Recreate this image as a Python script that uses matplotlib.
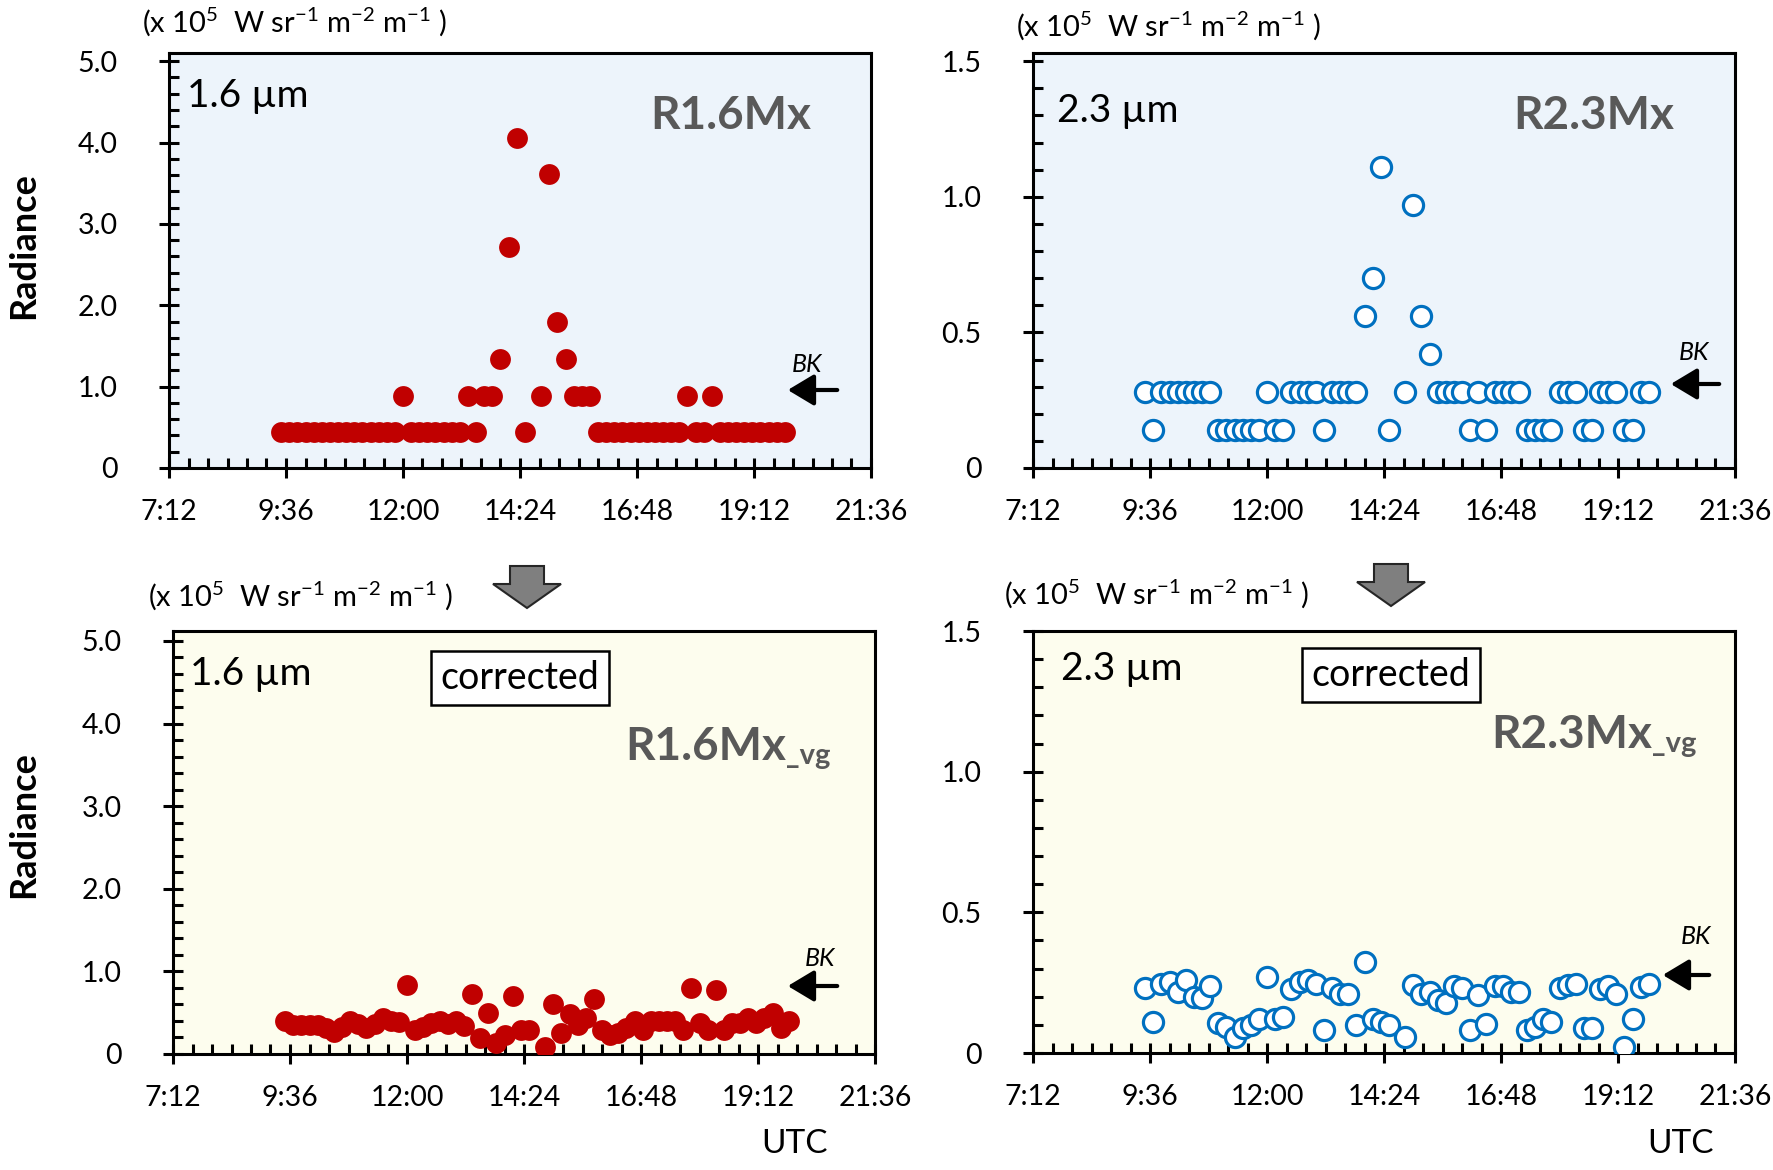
import matplotlib
matplotlib.use("Agg")
import matplotlib.pyplot as plt
from matplotlib.ticker import MultipleLocator, FixedLocator, FuncFormatter
from matplotlib.patches import Polygon, FancyArrowPatch
from matplotlib.transforms import IdentityTransform
import numpy as np

plt.rcParams['font.family'] = ['Lato', 'DejaVu Sans']
plt.rcParams['mathtext.fontset'] = 'custom'
plt.rcParams['mathtext.rm'] = 'Lato'
plt.rcParams['mathtext.it'] = 'Lato:italic'
plt.rcParams['mathtext.bf'] = 'Lato:bold'

# ---------------- data ----------------
times = ["9:30", "9:40", "9:50", "10:00", "10:10", "10:20", "10:30", "10:40", "10:50",
         "11:00", "11:10", "11:20", "11:30", "11:40", "11:50", "12:00", "12:10", "12:20",
         "12:30", "12:40", "12:50", "13:00", "13:10", "13:20", "13:30", "13:40", "13:50",
         "14:00", "14:10", "14:20", "14:30", "14:50", "15:00", "15:10", "15:20", "15:30",
         "15:40", "15:50", "16:00", "16:10", "16:20", "16:30", "16:40", "16:50", "17:00",
         "17:10", "17:20", "17:30", "17:40", "17:50", "18:00", "18:10", "18:20", "18:30",
         "18:40", "18:50", "19:00", "19:10", "19:20", "19:30", "19:40", "19:50"]

r16_raw = [0.44, 0.44, 0.44, 0.44, 0.44, 0.44, 0.44, 0.44, 0.44,
           0.44, 0.44, 0.44, 0.44, 0.44, 0.44, 0.89, 0.44, 0.44,
           0.44, 0.44, 0.44, 0.44, 0.44, 0.89, 0.44, 0.89, 0.89,
           1.34, 2.71, 4.06, 0.44, 0.89, 3.61, 1.79, 1.34, 0.89,
           0.89, 0.89, 0.44, 0.44, 0.44, 0.44, 0.44, 0.44, 0.44,
           0.44, 0.44, 0.44, 0.44, 0.89, 0.44, 0.44, 0.89, 0.44,
           0.44, 0.44, 0.44, 0.44, 0.44, 0.44, 0.44, 0.44]

r23_raw = [0.28, 0.14, 0.28, 0.28, 0.28, 0.28, 0.28, 0.28, 0.28,
           0.14, 0.14, 0.14, 0.14, 0.14, 0.14, 0.28, 0.14, 0.14,
           0.28, 0.28, 0.28, 0.28, 0.14, 0.28, 0.28, 0.28, 0.28,
           0.56, 0.70, 1.11, 0.14, 0.28, 0.97, 0.56, 0.42, 0.28,
           0.28, 0.28, 0.28, 0.14, 0.28, 0.14, 0.28, 0.28, 0.28,
           0.28, 0.14, 0.14, 0.14, 0.14, 0.28, 0.28, 0.28, 0.14,
           0.14, 0.28, 0.28, 0.28, 0.14, 0.14, 0.28, 0.28]

r16_vg = [0.40, 0.35, 0.35, 0.35, 0.35, 0.32, 0.27, 0.33, 0.40,
          0.36, 0.31, 0.36, 0.43, 0.40, 0.39, 0.83, 0.29, 0.33,
          0.37, 0.40, 0.36, 0.40, 0.34, 0.73, 0.19, 0.50, 0.13,
          0.23, 0.70, 0.29, 0.29, 0.09, 0.61, 0.26, 0.49, 0.35,
          0.44, 0.67, 0.29, 0.23, 0.25, 0.31, 0.40, 0.29, 0.40,
          0.40, 0.40, 0.40, 0.29, 0.80, 0.37, 0.29, 0.77, 0.29,
          0.37, 0.38, 0.43, 0.37, 0.44, 0.50, 0.31, 0.40]

r23_vg = [0.230, 0.110, 0.247, 0.251, 0.216, 0.258, 0.198, 0.194, 0.237,
          0.106, 0.092, 0.057, 0.088, 0.099, 0.120, 0.269, 0.120, 0.127,
          0.226, 0.251, 0.258, 0.247, 0.081, 0.230, 0.208, 0.208, 0.099,
          0.325, 0.120, 0.110, 0.099, 0.057, 0.240, 0.208, 0.216, 0.187,
          0.177, 0.237, 0.230, 0.081, 0.205, 0.102, 0.237, 0.237, 0.216,
          0.216, 0.081, 0.092, 0.120, 0.110, 0.230, 0.240, 0.247, 0.088,
          0.088, 0.226, 0.237, 0.208, 0.021, 0.120, 0.233, 0.247]

x_ticks = [7.2, 9.6, 12.0, 14.4, 16.8, 19.2, 21.6]
y_ticks_16 = [0, 1.0, 2.0, 3.0, 4.0, 5.0]
y_ticks_23 = [0, 0.5, 1.0, 1.5]


def to_hours(s):
    h, m = s.split(":")
    return int(h) + int(m) / 60.0


hours = [to_hours(t) for t in times]

# ---------------- figure ----------------
W, H = 1773, 1170
fig = plt.figure(figsize=(W / 100, H / 100), dpi=100)


def px_axes(left, top, right, bottom):
    return fig.add_axes([left / W, 1 - bottom / H, (right - left) / W, (bottom - top) / H])


RED = "#C00000"
BLUE = "#0070C0"
BG_TOP = "#EDF4FB"
BG_BOT = "#FDFDEE"
GRAY = "#595959"


def xfmt(v, pos):
    total = int(round(v * 60))
    return f"{total // 60}:{total % 60:02d}"


def yfmt(v, pos):
    if abs(v) < 1e-9:
        return "0"
    return f"{v:.1f}"


def style(ax, ymax, yticks, yminor, bg):
    ax.set_facecolor(bg)
    ax.set_xlim(7.2, 21.6)
    ax.set_ylim(0, ymax)
    ax.set_xticks(x_ticks)
    ax.xaxis.set_minor_locator(MultipleLocator(0.4))
    ax.xaxis.set_major_formatter(FuncFormatter(xfmt))
    ax.set_yticks(yticks)
    top = yticks[-1]
    ax.yaxis.set_minor_locator(FixedLocator(
        [v for v in np.arange(0, top + 1e-9, yminor)]))
    ax.yaxis.set_major_formatter(FuncFormatter(yfmt))
    ax.tick_params(which="major", direction="inout", length=14, width=2.2, labelsize=20.5)
    ax.tick_params(which="minor", direction="in", length=7, width=2.2)
    ax.tick_params(axis="x", which="major", pad=15)
    ax.tick_params(axis="y", which="major", pad=30)
    for sp in ax.spines.values():
        sp.set_linewidth(2.2)
        sp.set_color("black")


def ftext(xpx, ypx, s, **kw):
    return fig.text(xpx / W, 1 - ypx / H, s, **kw)


def units(xpx, ypx):
    ftext(xpx, ypx, r"(x 10$^{5}$  W sr$^{-1}$ m$^{-2}$ m$^{-1}$ )",
          fontsize=21, ha="left", va="center")


def bk(tx, ty, ar_y, ar_x0, ar_x1):
    ftext(tx, ty, "BK", fontsize=18, style="italic", ha="center", va="center")
    fig.add_artist(FancyArrowPatch(
        (ar_x0 / W, 1 - ar_y / H), (ar_x1 / W, 1 - ar_y / H),
        transform=fig.transFigure, arrowstyle="-|>,head_length=10,head_width=6",
        mutation_scale=1.6, color="black", lw=3))


def block_arrow(cx, top, head_y, tip):
    sw, hw = 17, 34
    pts = [(cx - sw, top), (cx + sw, top), (cx + sw, head_y), (cx + hw, head_y),
           (cx, tip), (cx - hw, head_y), (cx - sw, head_y)]
    pts = [(x, H - y) for x, y in pts]
    fig.add_artist(Polygon(pts, closed=True, transform=IdentityTransform(),
                           facecolor="#7F7F7F", edgecolor="#262626", lw=1.5))


# --- top-left ---
ax1 = px_axes(169, 53, 871, 468)
style(ax1, 5.1, y_ticks_16, 0.2, BG_TOP)
ax1.plot(hours, r16_raw, "o", ms=15, color=RED, mec=RED, mew=0, zorder=3)
ftext(24, 246, "Radiance", fontsize=26, fontweight="bold", rotation=90,
      ha="center", va="center")
units(142, 22)
ftext(187, 96, "1.6 µm", fontsize=28, ha="left", va="center")
ftext(731, 116, "R1.6Mx", fontsize=33, fontweight="bold", color=GRAY,
      ha="center", va="center")
bk(807, 365, 390, 840, 785)

# --- top-right ---
ax2 = px_axes(1033, 53, 1735, 468)
style(ax2, 1.53, y_ticks_23, 0.1, BG_TOP)
ax2.plot(hours, r23_raw, "o", ms=14.5, mfc="white", mec=BLUE, mew=2.3, zorder=3)
units(1016, 26)
ftext(1057, 111, "2.3 µm", fontsize=28, ha="left", va="center")
ftext(1594, 116, "R2.3Mx", fontsize=33, fontweight="bold", color=GRAY,
      ha="center", va="center")
bk(1694, 352, 384, 1722, 1668)

# --- bottom-left ---
ax3 = px_axes(173, 631, 875, 1054)
style(ax3, 5.12, y_ticks_16, 0.2, BG_BOT)
ax3.plot(hours, r16_vg, "o", ms=15, color=RED, mec=RED, mew=0, zorder=3)
ftext(24, 825, "Radiance", fontsize=26, fontweight="bold", rotation=90,
      ha="center", va="center")
units(148, 596)
ftext(190, 674, "1.6 µm", fontsize=28, ha="left", va="center")
ftext(520, 678, "corrected", fontsize=27, ha="center", va="center",
      bbox=dict(boxstyle="square,pad=0.25", fc="white", ec="black", lw=1.8))
ftext(786, 760, "R1.6Mx", fontsize=33, fontweight="bold", color=GRAY,
      ha="right", va="baseline")
ftext(786, 764, "_vg", fontsize=21, fontweight="bold", color=GRAY,
      ha="left", va="baseline")
bk(820, 958, 986, 840, 785)
ftext(795, 1144, "UTC", fontsize=24, ha="center", va="center")

# --- bottom-right ---
ax4 = px_axes(1033, 631, 1735, 1053)
style(ax4, 1.5, y_ticks_23, 0.1, BG_BOT)
ax4.plot(hours, r23_vg, "o", ms=14.5, mfc="white", mec=BLUE, mew=2.3, zorder=3)
units(1004, 594)
ftext(1061, 669, "2.3 µm", fontsize=28, ha="left", va="center")
ftext(1391, 675, "corrected", fontsize=27, ha="center", va="center",
      bbox=dict(boxstyle="square,pad=0.25", fc="white", ec="black", lw=1.8))
ftext(1652, 748, "R2.3Mx", fontsize=33, fontweight="bold", color=GRAY,
      ha="right", va="baseline")
ftext(1652, 752, "_vg", fontsize=21, fontweight="bold", color=GRAY,
      ha="left", va="baseline")
bk(1696, 937, 975, 1712, 1660)
ftext(1680, 1144, "UTC", fontsize=24, ha="center", va="center")

# --- down arrows between rows ---
block_arrow(527, 566, 584, 608)
block_arrow(1391, 564, 582, 606)

fig.savefig("out.png", dpi=100)
